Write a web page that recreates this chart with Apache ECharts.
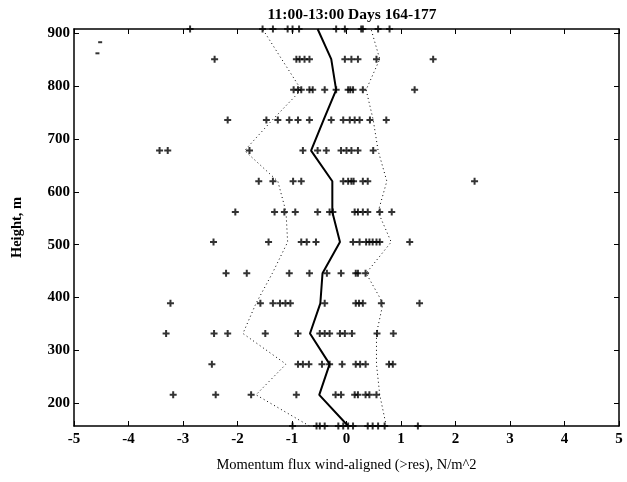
<!DOCTYPE html>
<html>
<head>
<meta charset="utf-8">
<script src="https://cdn.jsdelivr.net/npm/echarts@6/dist/echarts.min.js"></script>
<style>
  html, body { margin: 0; padding: 0; background: #fff; }
  #chart { width: 627px; height: 482px; }
</style>
</head>
<body>
<div id="chart"></div>
<script>
// Measurement heights (m), bottom to top
const heights = [157, 216, 274, 332, 389, 446, 505, 562, 620, 678, 736, 793, 851, 908];

// Individual momentum-flux samples at each height (N/m^2)
const fluxSamples = [
  [-0.99, -0.55, -0.49, -0.40, -0.15, -0.06, 0.03, 0.12, 0.39, 0.48, 0.58, 0.70, 1.31],
  [-3.18, -2.40, -1.75, -0.92, -0.20, -0.10, 0.15, 0.21, 0.35, 0.42, 0.55],
  [-2.47, -0.89, -0.80, -0.69, -0.45, -0.31, -0.08, 0.17, 0.25, 0.35, 0.78, 0.85],
  [-3.31, -2.43, -2.18, -1.49, -0.89, -0.49, -0.40, -0.31, -0.12, -0.03, 0.10, 0.56, 0.86],
  [-3.23, -1.58, -1.35, -1.22, -1.12, -1.03, -0.40, 0.17, 0.23, 0.30, 0.64, 1.34],
  [-2.21, -1.83, -1.05, -0.68, -0.36, -0.10, 0.17, 0.21, 0.35],
  [-2.44, -1.43, -0.83, -0.73, -0.56, 0.12, 0.24, 0.36, 0.42, 0.48, 0.55, 0.61, 1.16],
  [-2.04, -1.32, -1.14, -0.94, -0.53, -0.31, -0.25, 0.15, 0.21, 0.30, 0.39, 0.61, 0.83],
  [-1.61, -1.35, -0.98, -0.83, -0.06, 0.03, 0.09, 0.13, 0.30, 0.39, 2.35],
  [-3.43, -3.28, -1.78, -0.80, -0.53, -0.37, -0.10, 0.00, 0.09, 0.21, 0.49],
  [-2.18, -1.47, -1.26, -1.05, -0.89, -0.68, -0.28, -0.06, 0.06, 0.15, 0.24, 0.43, 0.73],
  [-0.97, -0.89, -0.83, -0.68, -0.62, -0.40, -0.19, 0.03, 0.07, 0.12, 0.30, 1.25],
  [-2.42, -0.92, -0.86, -0.77, -0.68, -0.03, 0.09, 0.21, 0.55, 1.59],
  [-2.87, -1.54, -1.35, -1.08, -0.99, -0.87, -0.19, -0.03, 0.27, 0.30, 0.58, 0.79]
];

// Mean profile and mean -/+ one standard deviation, bottom to top
const meanFlux  = [0.03, -0.50, -0.31, -0.67, -0.48, -0.44, -0.12, -0.26, -0.26, -0.65, -0.42, -0.19, -0.28, -0.53];
const lowerFlux = [-0.68, -1.66, -1.11, -1.90, -1.66, -1.36, -1.08, -1.11, -1.26, -1.87, -1.36, -0.83, -1.19, -1.54];
const upperFlux = [0.73, 0.61, 0.55, 0.55, 0.67, 0.36, 0.82, 0.58, 0.74, 0.58, 0.49, 0.36, 0.61, 0.45];

// Two stray marks near the upper-left corner
const strayFlux = [-4.57, -4.52];
const strayHeight = [862, 883];

const xTicks = [-5, -4, -3, -2, -1, 0, 1, 2, 3, 4, 5];
const yTicks = [200, 300, 400, 500, 600, 700, 800, 900];

const plusPath = 'path://M2.5,0h2v2.5h2.5v2h-2.5v2.5h-2v-2.5h-2.5v-2h2.5z';
const serif = '"Liberation Serif", "DejaVu Serif", serif';

const samplePoints = [];
heights.forEach((h, i) => fluxSamples[i].forEach(v => samplePoints.push([v, h])));
const profile = arr => arr.map((v, i) => [v, heights[i]]);

const tickStyle = { show: true, inside: true, length: 5, lineStyle: { color: '#000', width: 1 } };
const lineStyle = { show: true, onZero: false, lineStyle: { color: '#000', width: 1.5 } };

const chart = echarts.init(document.getElementById('chart'));
chart.setOption({
  animation: false,
  backgroundColor: '#fff',
  title: {
    text: '11:00-13:00 Days 164-177',
    left: 347, top: 2, textAlign: 'center',
    textStyle: { fontFamily: serif, fontSize: 15.5, fontWeight: 'bold', color: '#000' }
  },
  grid: { left: 74, right: 8, top: 29, bottom: 56 },
  xAxis: [
    {
      type: 'value', min: -5, max: 5, interval: 1, position: 'bottom',
      name: 'Momentum flux wind-aligned (>res), N/m^2',
      nameLocation: 'middle', nameGap: 32,
      nameTextStyle: { fontFamily: serif, fontSize: 14.5, color: '#000' },
      axisLine: lineStyle, axisTick: tickStyle, splitLine: { show: false },
      axisLabel: { fontFamily: serif, fontSize: 15, fontWeight: 'bold', color: '#000', margin: 6,
        customValues: xTicks }
    },
    {
      type: 'value', min: -5, max: 5, interval: 1, position: 'top',
      axisLine: lineStyle, axisTick: tickStyle, splitLine: { show: false },
      axisLabel: { show: false }
    }
  ],
  yAxis: [
    {
      type: 'value', min: 157, max: 908, position: 'left',
      name: 'Height, m', nameLocation: 'middle', nameGap: 49, nameRotate: 90,
      nameTextStyle: { fontFamily: serif, fontSize: 14.5, fontWeight: 'bold', color: '#000' },
      axisLine: lineStyle, splitLine: { show: false },
      axisTick: Object.assign({ customValues: yTicks }, tickStyle),
      axisLabel: { fontFamily: serif, fontSize: 15, fontWeight: 'bold', color: '#000', margin: 4,
        customValues: yTicks }
    },
    {
      type: 'value', min: 157, max: 908, position: 'right',
      axisLine: lineStyle, splitLine: { show: false },
      axisTick: Object.assign({ customValues: yTicks }, tickStyle),
      axisLabel: { show: false }
    }
  ],
  series: [
    {
      name: 'samples', type: 'scatter', data: samplePoints, clip: false,
      symbol: plusPath, symbolSize: 7, itemStyle: { color: '#000' }, z: 3
    },
    {
      name: 'stray', type: 'scatter', clip: false,
      data: strayFlux.map((v, i) => [v, strayHeight[i]]),
      symbol: 'rect', symbolSize: [4, 2], itemStyle: { color: '#000' }
    },
    {
      name: 'mean', type: 'line', data: profile(meanFlux), showSymbol: false,
      lineStyle: { color: '#000', width: 2 }, z: 4
    },
    {
      name: 'lower', type: 'line', data: profile(lowerFlux), showSymbol: false,
      lineStyle: { color: '#000', width: 1, type: [1, 3] }
    },
    {
      name: 'upper', type: 'line', data: profile(upperFlux), showSymbol: false,
      lineStyle: { color: '#000', width: 1, type: [1, 3] }
    }
  ]
});
</script>
</body>
</html>
